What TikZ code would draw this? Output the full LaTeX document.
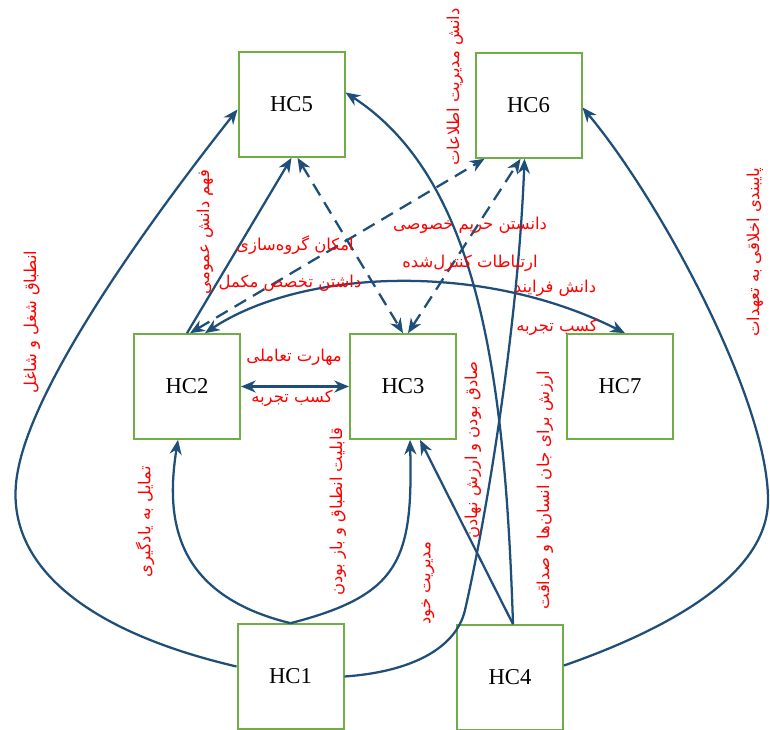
\documentclass[tikz,border=0pt]{standalone}
\usepackage{fontspec}
\setmainfont{Liberation Serif}
\newfontfamily\fa[Script=Arabic]{DejaVu Sans}
\TeXXeTstate=1
\usetikzlibrary{arrows.meta,calc}
\definecolor{boxgreen}{HTML}{70AD47}
\definecolor{linkblue}{HTML}{1F4E79}
\definecolor{labred}{HTML}{FF0000}
\tikzset{
 hcbox/.style={draw=boxgreen, line width=1.5pt, minimum width=79.5pt, minimum height=78.5pt, inner sep=0pt, font=\fontsize{17}{20}\selectfont},
 tip/.tip={Stealth[length=11pt,width=9pt,inset=3.5pt]},
 link/.style={draw=linkblue, line width=1.7pt, -tip},
 dlink/.style={draw=linkblue, line width=1.7pt, tip-tip, dash pattern=on 10pt off 6pt},
 blink/.style={draw=linkblue, line width=1.7pt, tip-tip},
 lab/.style={text=labred, font=\fa\fontsize{12.3}{14}\selectfont, inner sep=1pt},
 vlab/.style={lab, rotate=90},
}
\newcommand{\fat}[1]{\beginR #1\endR}
\begin{document}
\begin{tikzpicture}[x=0.75pt,y=-0.75pt]
\useasboundingbox (0,0) rectangle (770,730);
% boxes
\node[hcbox] (HC5) at (291.5,104.5) {HC5};
\node[hcbox] (HC6) at (528.5,105.5) {HC6};
\node[hcbox] (HC2) at (187,386.5) {HC2};
\node[hcbox] (HC3) at (403,386.5) {HC3};
\node[hcbox] (HC7) at (620,386.5) {HC7};
\node[hcbox] (HC1) at (290.5,676.5) {HC1};
\node[hcbox] (HC4) at (510,677.5) {HC4};
% connectors
\draw[link] ($(HC1.west)+(0,-10)$) .. controls (80,630) and (0,560) .. (18,470)
   .. controls (35,380) and (150,220) .. ($(HC5.west)+(0,5)$);
\draw[link] (HC1.north) .. controls (175,595) and (165,520) .. ($(HC2.south)+(-9,0)$);
\draw[link] (HC1.north) .. controls (400,595) and (413,560) .. ($(HC3.south)+(7,0)$);
\draw[link] (HC1.east) .. controls (410,672) and (456,649) .. (465,610)
   .. controls (485,523) and (518,330) .. ($(HC6.south)+(-4,0)$);
\draw[link] ($(HC4.north)+(3,0)$) -- ($(HC3.south)+(17,0)$);
\draw[link] ($(HC4.north)+(3,0)$) .. controls (505,380) and (480,180) .. ($(HC5.east)+(0,-12)$);
\draw[link] ($(HC4.east)+(0,-12)$) .. controls (680,625) and (768,570) .. (768,500)
   .. controls (768,400) and (660,200) .. ($(HC6.east)+(0,2)$);
\draw[link] (HC2.north) -- (HC5.south);
\draw[blink] ($(HC2.north)+(18,0)$) .. controls (300,270) and (480,260) .. ($(HC7.north)+(5,0)$);
\draw[blink] (HC2.east) -- (HC3.west);
\draw[dlink] ($(HC5.south)+(6,0)$) -- (HC3.north);
\draw[dlink] ($(HC3.north)+(5,0)$) -- ($(HC6.south)+(-8,0)$);
\draw[dlink] ($(HC2.north)+(3,0)$) -- ($(HC6.south west)+(10,0)$);
% labels
\node[vlab] (l1) at (455,87) {\fat{دانش مدیریت اطلاعات}};
\node[vlab] (l2) at (755,252) {\fat{پایبندی اخلاقی به تعهدات}};
\node[vlab] (l3) at (32,322) {\fat{انطباق شغل و شاغل}};
\node[vlab] (l4) at (205,232) {\fat{فهم دانش عمومی}};
\node[lab] (l5) at (295,245) {\fat{امکان گروه‌سازی}};
\node[lab] (l6) at (290,283) {\fat{داشتن تخصص مکمل}};
\node[lab] (l7) at (470,225) {\fat{دانستن حریم خصوصی}};
\node[lab] (l8) at (470,263) {\fat{ارتباطات کنترل‌شده}};
\node[lab] (l9) at (555,288) {\fat{دانش فرایند}};
\node[lab] (l10) at (557,327) {\fat{کسب تجربه}};
\node[lab] (l11) at (294,357) {\fat{مهارت تعاملی}};
\node[lab] (l12) at (292,398) {\fat{کسب تجربه}};
\node[vlab] (l13) at (338,512) {\fat{قابلیت انطباق و باز بودن}};
\node[vlab] (l14) at (473,450) {\fat{صادق بودن و ارزش نهادن}};
\node[vlab] (l15) at (545,490) {\fat{ارزش برای جان انسان‌ها و صداقت}};
\node[vlab] (l16) at (145,522) {\fat{تمایل به یادگیری}};
\node[vlab] (l17) at (428,583) {\fat{مدیریت خود}};
\end{tikzpicture}
\end{document}
